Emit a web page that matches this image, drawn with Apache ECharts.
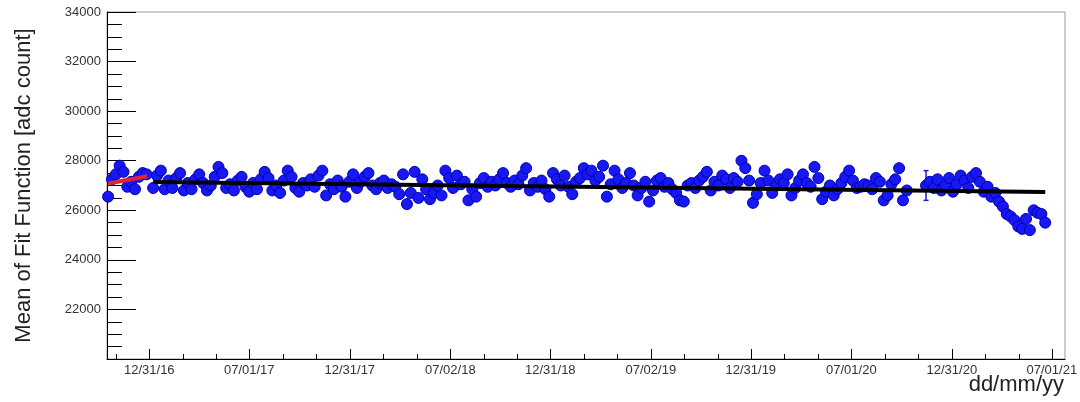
<!DOCTYPE html>
<html>
<head>
<meta charset="utf-8">
<script src="https://cdn.jsdelivr.net/npm/echarts@6/dist/echarts.min.js"></script>
<style>
  html, body { margin: 0; padding: 0; background: #fff; }
  #chart { width: 1080px; height: 402px; }
</style>
</head>
<body>
<div id="chart"></div>
<script>
// Weekly mean of the fit function (adc counts), grouped by year
const dates2016 = ['2016-10-17','2016-10-24','2016-10-31','2016-11-07','2016-11-14','2016-11-21','2016-11-28','2016-12-05','2016-12-12','2016-12-19','2016-12-26'];
const values2016 = [26550,27250,27450,27800,27550,26950,27150,26850,27350,27500,27450];

const dates2017 = ['2017-01-07','2017-01-14','2017-01-21','2017-01-28','2017-02-04','2017-02-11','2017-02-18','2017-02-25',
  '2017-03-04','2017-03-11','2017-03-18','2017-03-25','2017-04-01','2017-04-08','2017-04-15','2017-04-22','2017-04-29',
  '2017-05-06','2017-05-13','2017-05-20','2017-05-27','2017-06-03','2017-06-10','2017-06-17','2017-06-24',
  '2017-07-01','2017-07-08','2017-07-15','2017-07-22','2017-07-29','2017-08-05','2017-08-12','2017-08-19','2017-08-26',
  '2017-09-02','2017-09-09','2017-09-16','2017-09-23','2017-09-30','2017-10-07','2017-10-14','2017-10-21','2017-10-28',
  '2017-11-04','2017-11-11','2017-11-18','2017-11-25','2017-12-02','2017-12-09','2017-12-16','2017-12-23','2017-12-30'];
const values2017 = [26900,27400,27600,26850,27200,26900,27300,27500,26800,27100,
  26850,27250,27450,27100,26800,27000,27350,27750,27500,26900,
  27050,26800,27200,27350,26950,26750,27100,26850,27250,27550,
  27300,26800,27000,26700,27200,27600,27350,26900,26750,27100,
  27000,27250,26950,27400,27600,26600,27050,26850,27200,26950,26550,27150];

const dates2018 = ['2018-01-06','2018-01-13','2018-01-20','2018-01-27','2018-02-03','2018-02-10','2018-02-17','2018-02-24',
  '2018-03-03','2018-03-10','2018-03-17','2018-03-24','2018-03-31','2018-04-07','2018-04-14','2018-04-21','2018-04-28',
  '2018-05-05','2018-05-12','2018-05-19','2018-05-26','2018-06-02','2018-06-09','2018-06-16','2018-06-23','2018-06-30',
  '2018-07-07','2018-07-14','2018-07-21','2018-07-28','2018-08-04','2018-08-11','2018-08-18','2018-08-25',
  '2018-09-01','2018-09-08','2018-09-15','2018-09-22','2018-09-29','2018-10-06','2018-10-13','2018-10-20','2018-10-27',
  '2018-11-03','2018-11-10','2018-11-17','2018-11-24','2018-12-01','2018-12-08','2018-12-15','2018-12-22','2018-12-29'];
const values2018 = [27450,26900,27150,27350,27500,27000,26850,27100,27200,26900,
  27050,26950,26650,27450,26250,26700,27550,26500,27250,26850,
  26450,26700,27000,26600,27600,27300,26900,27400,27050,27150,
  26400,26850,26550,27100,27300,26950,27150,27000,27250,27500,
  27100,26950,27200,27050,27400,27700,26800,27100,26950,27200,26850,26550];

const dates2019 = ['2019-01-05','2019-01-12','2019-01-19','2019-01-26','2019-02-02','2019-02-09','2019-02-16','2019-02-23',
  '2019-03-02','2019-03-09','2019-03-16','2019-03-23','2019-03-30','2019-04-06','2019-04-13','2019-04-20','2019-04-27',
  '2019-05-04','2019-05-11','2019-05-18','2019-05-25','2019-06-01','2019-06-08','2019-06-15','2019-06-22','2019-06-29',
  '2019-07-06','2019-07-13','2019-07-20','2019-07-27','2019-08-03','2019-08-10','2019-08-17','2019-08-24','2019-08-31',
  '2019-09-07','2019-09-14','2019-09-21','2019-09-28','2019-10-05','2019-10-12','2019-10-19','2019-10-26',
  '2019-11-02','2019-11-09','2019-11-16','2019-11-23','2019-11-30','2019-12-07','2019-12-14','2019-12-21','2019-12-28'];
const values2019 = [27500,27250,27000,27400,26950,26650,27150,27300,27700,27450,
  27600,27200,27350,27800,26550,27050,27600,27250,26900,27100,
  27500,27000,26600,26900,27150,26350,26800,27200,27300,26950,
  27100,26850,26700,26400,26350,27000,27100,26900,27200,27350,
  27550,26800,27150,27000,27400,27250,26900,27300,27150,28000,27700,27200];

const dates2020 = ['2020-01-04','2020-01-11','2020-01-18','2020-01-25','2020-02-01','2020-02-08','2020-02-15','2020-02-22','2020-02-29',
  '2020-03-07','2020-03-14','2020-03-21','2020-03-28','2020-04-04','2020-04-11','2020-04-18','2020-04-25',
  '2020-05-02','2020-05-09','2020-05-16','2020-05-23','2020-05-30','2020-06-06','2020-06-13','2020-06-20','2020-06-27',
  '2020-07-04','2020-07-11','2020-07-18','2020-07-25','2020-08-01','2020-08-08','2020-08-15','2020-08-22','2020-08-29',
  '2020-09-05','2020-09-12','2020-09-19','2020-09-26','2020-10-03','2020-10-10',
  '2020-11-14','2020-11-21','2020-11-28','2020-12-05','2020-12-12','2020-12-19','2020-12-26'];
const values2020 = [26300,26650,27100,27600,27200,26700,27000,27250,27100,27450,
  26600,26900,27200,27450,27100,26950,27750,27300,26450,26750,
  27000,26600,26850,27100,27350,27600,27200,26900,26950,27050,
  27000,26850,27300,27150,26400,26600,27050,27250,27700,26400,26800,
  27000,27150,26900,27250,26800,27000,27300];

const dates2021 = ['2021-01-02','2021-01-09','2021-01-16','2021-01-23','2021-01-30','2021-02-06','2021-02-13','2021-02-20','2021-02-27',
  '2021-03-06','2021-03-13','2021-03-20','2021-03-27','2021-04-03','2021-04-10','2021-04-17','2021-04-24',
  '2021-05-01','2021-05-08','2021-05-15','2021-05-22','2021-05-29','2021-06-05','2021-06-12','2021-06-19'];
const values2021 = [26750,27050,27400,27200,26900,27350,27500,27150,26750,26950,
  26550,26700,26350,26150,25850,25750,25600,25350,25250,25650,25200,26000,25900,25850,25500];

// Points whose uncertainty is large enough to show beyond the marker
const errorDates = ['2020-11-14'];
const errorSizes = [600];

// Linear fits: early period (red) and main period (black)
const redFitDates = ['2016-10-17','2016-12-27'];
const redFitValues = [27080,27370];
const blackFitDates = ['2017-01-07','2021-06-19'];
const blackFitValues = [27143,26740];

// Axis ticks
const majorTickDates = ['2016-12-31','2017-07-01','2017-12-31','2018-07-02','2018-12-31',
  '2019-07-02','2019-12-31','2020-07-01','2020-12-31','2021-07-01'];
const minorTickDates = ['2016-10-31','2017-03-02','2017-05-02','2017-08-31','2017-10-31','2018-03-02','2018-05-02',
  '2018-09-01','2018-11-01','2019-03-02','2019-05-02','2019-09-01','2019-11-01','2020-03-01','2020-05-01',
  '2020-08-31','2020-10-31','2021-03-02','2021-05-02'];
const xRange = ['2016-10-15','2021-07-25'];
const yRange = [20000, 34000];

const T = d => Date.parse(d);
const pairs = (ds, vs) => ds.map((d, i) => [T(d), vs[i]]);

const points = [].concat(
  pairs(dates2016, values2016), pairs(dates2017, values2017), pairs(dates2018, values2018),
  pairs(dates2019, values2019), pairs(dates2020, values2020), pairs(dates2021, values2021)
);
const errorData = errorDates.map((d, i) => {
  const p = points.find(q => q[0] === T(d));
  return [p[0], p[1] - errorSizes[i], p[1] + errorSizes[i]];
});

const FONT = '"Liberation Sans", Arial, Helvetica, sans-serif';
const pad = n => (n < 10 ? '0' : '') + n;
const fmtDate = v => {
  const d = new Date(v);
  return pad(d.getUTCMonth() + 1) + '/' + pad(d.getUTCDate()) + '/' + pad(d.getUTCFullYear() % 100);
};

const chart = echarts.init(document.getElementById('chart'), null, { renderer: 'canvas' });
chart.setOption({
  animation: false,
  backgroundColor: '#ffffff',
  title: {
    text: 'dd/mm/yy',
    right: 16, top: 374, padding: 0,
    textStyle: { fontFamily: FONT, fontSize: 22, fontWeight: 'normal', color: '#222' }
  },
  grid: {
    left: 107, right: 15, top: 12, bottom: 43,
    show: true, borderColor: '#9a9a9a', borderWidth: 1,
    outerBoundsMode: 'none'
  },
  xAxis: [{
    type: 'value',
    min: T(xRange[0]), max: T(xRange[1]),
    axisLine: { show: true, onZero: false, lineStyle: { color: '#000', width: 1 } },
    axisTick: { show: true, inside: true, length: 10, customValues: majorTickDates.map(T),
      lineStyle: { color: '#000', width: 1 } },
    axisLabel: { show: true, customValues: majorTickDates.map(T), formatter: fmtDate, margin: 5,
      fontFamily: FONT, fontSize: 13, color: '#333', showMinLabel: true, showMaxLabel: true },
    splitLine: { show: false }
  }, {
    type: 'value',
    min: T(xRange[0]), max: T(xRange[1]),
    position: 'bottom',
    axisLine: { show: false, onZero: false },
    axisTick: { show: true, inside: true, length: 5, customValues: minorTickDates.map(T),
      lineStyle: { color: '#000', width: 1 } },
    axisLabel: { show: false },
    splitLine: { show: false }
  }],
  yAxis: {
    type: 'value',
    min: yRange[0], max: yRange[1], interval: 2000,
    name: 'Mean of Fit Function [adc count]',
    nameLocation: 'middle', nameGap: 72,
    nameTextStyle: { fontFamily: FONT, fontSize: 22, color: '#222' },
    axisLine: { show: true, lineStyle: { color: '#000', width: 1 } },
    axisTick: { show: true, inside: true, length: 29, lineStyle: { color: '#000', width: 1 } },
    minorTick: { show: true, splitNumber: 4, length: 15, lineStyle: { color: '#000', width: 1 } },
    axisLabel: { margin: 6, fontFamily: FONT, fontSize: 13, color: '#333',
      formatter: v => (v === yRange[0] ? '' : String(v)) },
    splitLine: { show: false },
    minorSplitLine: { show: false }
  },
  series: [{
    name: 'errors',
    type: 'custom',
    xAxisIndex: 0,
    data: errorData,
    renderItem: (params, api) => {
      const lo = api.coord([api.value(0), api.value(1)]);
      const hi = api.coord([api.value(0), api.value(2)]);
      const cap = 2.5;
      const style = { stroke: '#1a1ae0', lineWidth: 1.5 };
      return { type: 'group', children: [
        { type: 'line', shape: { x1: lo[0], y1: lo[1], x2: hi[0], y2: hi[1] }, style },
        { type: 'line', shape: { x1: lo[0] - cap, y1: lo[1], x2: lo[0] + cap, y2: lo[1] }, style },
        { type: 'line', shape: { x1: hi[0] - cap, y1: hi[1], x2: hi[0] + cap, y2: hi[1] }, style }
      ] };
    },
    z: 2
  }, {
    name: 'mean',
    type: 'scatter',
    xAxisIndex: 0,
    data: points,
    symbol: 'circle',
    symbolSize: 11,
    itemStyle: { color: '#1818f4', borderColor: '#0000b0', borderWidth: 1, opacity: 1 },
    z: 3
  }, {
    name: 'fit early',
    type: 'line',
    xAxisIndex: 0,
    data: pairs(redFitDates, redFitValues),
    showSymbol: false, symbol: 'none',
    lineStyle: { color: '#e3222b', width: 4 },
    z: 4
  }, {
    name: 'fit',
    type: 'line',
    xAxisIndex: 0,
    data: pairs(blackFitDates, blackFitValues),
    showSymbol: false, symbol: 'none',
    lineStyle: { color: '#000', width: 4 },
    z: 4
  }]
});
</script>
</body>
</html>
